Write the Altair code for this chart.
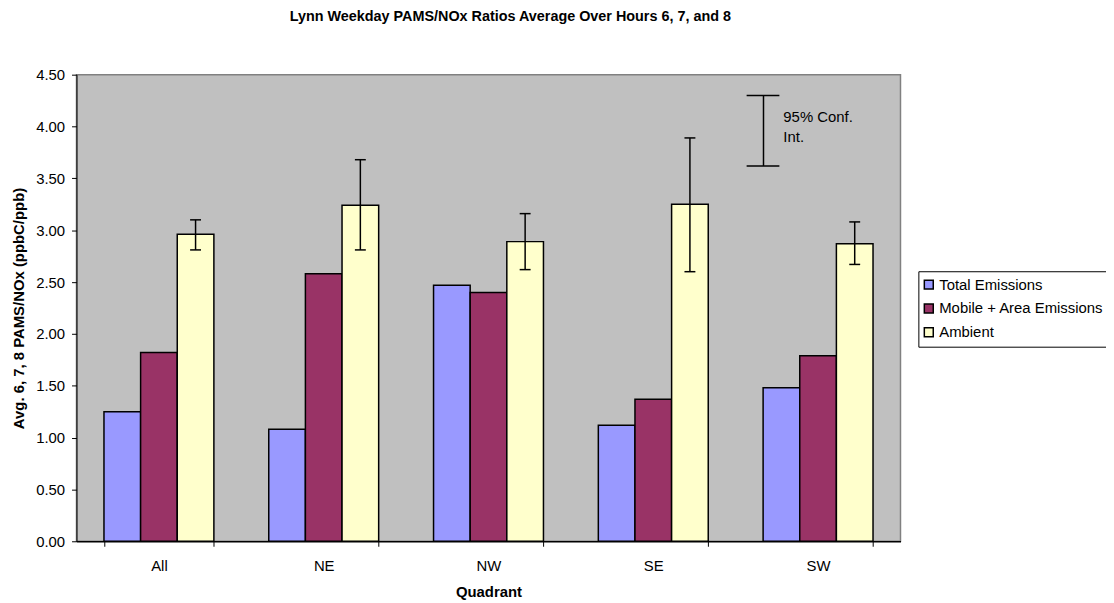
import altair as alt
import pandas as pd

# ---- data ----
quadrants = ["All", "NE", "NW", "SE", "SW"]
series_names = ["Total Emissions", "Mobile + Area Emissions", "Ambient"]
total_emissions = [1.25, 1.08, 2.47, 1.12, 1.48]
mobile_area_emissions = [1.82, 2.58, 2.40, 1.37, 1.79]
ambient = [2.96, 3.24, 2.89, 3.25, 2.87]
ambient_ci_high = [3.10, 3.68, 3.16, 3.89, 3.08]
ambient_ci_low = [2.81, 2.81, 2.62, 2.60, 2.67]
y_ticks = [0.0, 0.5, 1.0, 1.5, 2.0, 2.5, 3.0, 3.5, 4.0, 4.5]
ci_key_high = [4.30]
ci_key_low = [3.62]
ci_key_text = ["95% Conf.", "Int."]
colors = ["#9999FF", "#993366", "#FFFFCC"]

FONT = "Liberation Sans"

rows = []
for s, vals in zip(series_names, [total_emissions, mobile_area_emissions, ambient]):
    for q, v in zip(quadrants, vals):
        rows.append({"quadrant": q, "series": s, "value": v})
bars_df = pd.DataFrame(rows)

err_df = pd.DataFrame({
    "quadrant": quadrants,
    "series": ["Ambient"] * len(quadrants),
    "hi": ambient_ci_high,
    "lo": ambient_ci_low,
})
key_df = pd.DataFrame({"hi": ci_key_high, "lo": ci_key_low})

x_enc = alt.X(
    "quadrant:N",
    scale=alt.Scale(domain=quadrants, paddingInner=0.333, paddingOuter=0.1667),
    axis=alt.Axis(
        title="Quadrant", labelAngle=0, tickBand="extent", tickSize=5,
        labelPadding=12, titlePadding=12, domainColor="black", tickColor="black",
        domainWidth=1.5,
    ),
)
xoff_enc = alt.XOffset(
    "series:N", scale=alt.Scale(domain=series_names, paddingInner=0, paddingOuter=0)
)
y_scale = alt.Scale(domain=[0, 4.5], nice=False, zero=True)

bars = alt.Chart(bars_df).mark_bar(stroke="black", strokeWidth=1.5).encode(
    x=x_enc,
    xOffset=xoff_enc,
    y=alt.Y(
        "value:Q",
        scale=y_scale,
        axis=alt.Axis(
            title="Avg. 6, 7, 8 PAMS/NOx (ppbC/ppb)", values=y_ticks, format=".2f",
            grid=False, tickSize=5, labelPadding=7, titlePadding=9,
            domainColor="black", tickColor="black",
        ),
    ),
    color=alt.Color(
        "series:N",
        scale=alt.Scale(domain=series_names, range=colors),
        legend=alt.Legend(
            title=None, orient="none", legendX=848, legendY=198,
            symbolType="square", symbolSize=81, symbolStrokeColor="black",
            symbolStrokeWidth=1.5, symbolOpacity=1, symbolOffset=-3,
            labelFont=FONT, labelFontSize=15, labelColor="black", labelOffset=3,
            rowPadding=8, padding=6, strokeColor="black", fillColor="white",
            cornerRadius=0, labelLimit=400,
        ),
    ),
)

err_rule = alt.Chart(err_df).mark_rule(color="black", strokeWidth=1.5).encode(
    x=alt.X("quadrant:N"),
    xOffset=xoff_enc,
    y=alt.Y("lo:Q", scale=y_scale),
    y2="hi:Q",
)
err_top = alt.Chart(err_df).mark_tick(color="black", size=11, thickness=1.5, opacity=1).encode(
    x=alt.X("quadrant:N"), xOffset=xoff_enc, y=alt.Y("hi:Q", scale=y_scale)
)
err_bot = alt.Chart(err_df).mark_tick(color="black", size=11, thickness=1.5, opacity=1).encode(
    x=alt.X("quadrant:N"), xOffset=xoff_enc, y=alt.Y("lo:Q", scale=y_scale)
)

key_rule = alt.Chart(key_df).mark_rule(color="black", strokeWidth=1.5).encode(
    x=alt.value(692), y=alt.Y("hi:Q", scale=y_scale), y2="lo:Q"
)
key_cap_top = alt.Chart(key_df).mark_rule(color="black", strokeWidth=1.5).encode(
    x=alt.value(675), x2=alt.value(708), y=alt.Y("hi:Q", scale=y_scale)
)
key_cap_bot = alt.Chart(key_df).mark_rule(color="black", strokeWidth=1.5).encode(
    x=alt.value(675), x2=alt.value(708), y=alt.Y("lo:Q", scale=y_scale)
)
key_text1 = alt.Chart(key_df).mark_text(
    align="left", baseline="middle", font=FONT, fontSize=15, color="black"
).encode(x=alt.value(712), y=alt.value(43), text=alt.value(ci_key_text[0]))
key_text2 = alt.Chart(key_df).mark_text(
    align="left", baseline="middle", font=FONT, fontSize=15, color="black"
).encode(x=alt.value(712), y=alt.value(63), text=alt.value(ci_key_text[1]))

chart = alt.layer(
    bars, err_rule, err_top, err_bot,
    key_rule, key_cap_top, key_cap_bot, key_text1, key_text2,
).properties(
    width=830,
    height=470,
    background="white",
    title=alt.TitleParams(
        "Lynn Weekday PAMS/NOx Ratios Average Over Hours 6, 7, and 8",
        anchor="middle", frame="group", dx=22, offset=44,
        font=FONT, fontSize=14.5, fontWeight="bold", color="black",
    ),
    autosize=alt.AutoSizeParams(type="none"),
    padding={"left": 69, "top": 65, "right": 207, "bottom": 60},
).configure_view(
    fill="#C0C0C0", stroke="#808080", strokeWidth=1.5
).configure_axis(
    labelFont=FONT, labelFontSize=15, labelColor="black",
    titleFont=FONT, titleFontSize=15, titleFontWeight="bold", titleColor="black",
)

chart.save("out.html", embed_options={"renderer": "svg", "actions": False})
